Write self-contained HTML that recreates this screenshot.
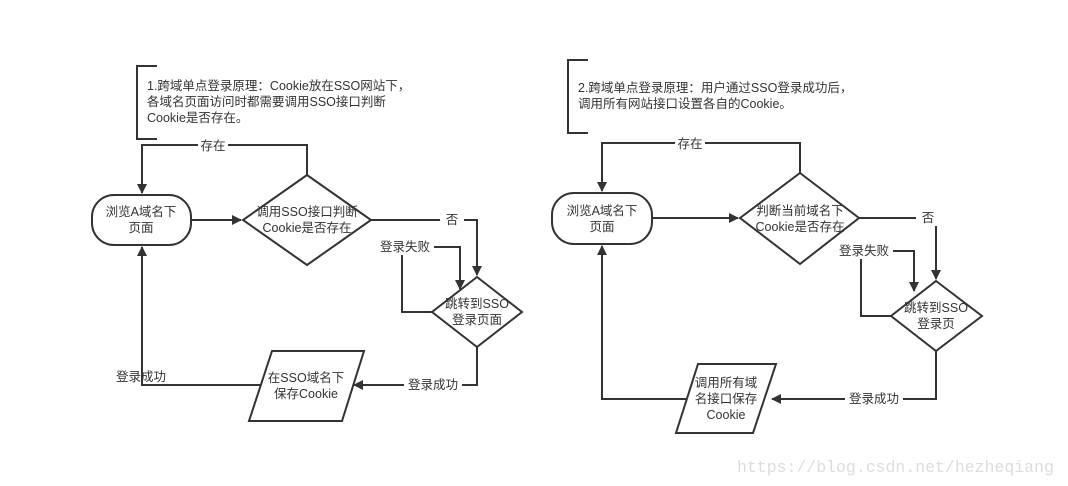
<!DOCTYPE html>
<html><head><meta charset="utf-8"><style>
html,body{margin:0;padding:0;background:#fff;}
svg{display:block}
text{font-family:"Liberation Sans","Noto Sans CJK SC",sans-serif;font-size:12.5px;fill:#333;}
.w{font-family:"Liberation Mono","DejaVu Sans Mono",monospace;font-size:16.5px;fill:#ddd;}
</style></head><body>
<svg width="1068" height="486" viewBox="0 0 1068 486" xmlns="http://www.w3.org/2000/svg">
<defs><marker id="a" markerWidth="10" markerHeight="10" refX="9" refY="5" orient="auto" markerUnits="userSpaceOnUse"><path d="M0,0 L10,5 L0,10 Z" fill="#333"/></marker></defs>
<g fill="none" stroke="#333" stroke-width="2">
<!-- left -->
<path d="M157,66 H137 V139 H157"/>
<rect x="92" y="195" width="99" height="50" rx="22"/>
<path d="M307,175 L371,220 L307,265 L243,220 Z"/>
<path d="M477,277 L522,312 L477,347 L432,312 Z"/>
<path d="M272,351 H364 L342,421 H249 Z"/>
<path d="M191,220 H241" marker-end="url(#a)"/>
<path d="M307,175 V145 H142 V193" marker-end="url(#a)"/>
<path d="M371,220 H477 V275" marker-end="url(#a)"/>
<path d="M432,312 H402 V247 H460 V289" marker-end="url(#a)"/>
<path d="M477,347 V385 H354" marker-end="url(#a)"/>
<path d="M260,385 H142 V247" marker-end="url(#a)"/>
<!-- right -->
<path d="M588,60 H568 V133 H588"/>
<rect x="552" y="193" width="100" height="51" rx="22"/>
<path d="M800,173 L859,218 L800,264 L740,218 Z"/>
<path d="M936,281 L982,316 L936,351 L891,316 Z"/>
<path d="M698,364 H776 L753,433 H676 Z"/>
<path d="M652,218 H738" marker-end="url(#a)"/>
<path d="M800,173 V143 H602 V191" marker-end="url(#a)"/>
<path d="M859,218 H936 V279" marker-end="url(#a)"/>
<path d="M891,316 H861 V251 H914 V291" marker-end="url(#a)"/>
<path d="M936,351 V399 H772" marker-end="url(#a)"/>
<path d="M687,399 H602 V246" marker-end="url(#a)"/>
</g>
<g>
<rect x="198" y="137" width="30" height="16" fill="#fff"/>
<rect x="440" y="212" width="24" height="16" fill="#fff"/>
<rect x="376" y="239" width="58" height="16" fill="#fff"/>
<rect x="404" y="377" width="58" height="16" fill="#fff"/>
<rect x="675" y="135" width="30" height="16" fill="#fff"/>
<rect x="916" y="210" width="24" height="16" fill="#fff"/>
<rect x="835" y="243" width="58" height="16" fill="#fff"/>
<rect x="845" y="391" width="58" height="16" fill="#fff"/>
</g>
<text x="147" y="90">1.跨域单点登录原理：Cookie放在SSO网站下，</text>
<text x="147" y="106">各域名页面访问时都需要调用SSO接口判断</text>
<text x="147" y="122">Cookie是否存在。</text>
<text x="578" y="92">2.跨域单点登录原理：用户通过SSO登录成功后，</text>
<text x="578" y="108">调用所有网站接口设置各自的Cookie。</text>
<g text-anchor="middle">
<text x="141" y="216">浏览A域名下</text><text x="141" y="232">页面</text>
<text x="307" y="216">调用SSO接口判断</text><text x="307" y="232">Cookie是否存在</text>
<text x="477" y="308">跳转到SSO</text><text x="477" y="324">登录页面</text>
<text x="306" y="382">在SSO域名下</text><text x="306" y="398">保存Cookie</text>
<text x="213" y="150">存在</text><text x="452" y="224">否</text>
<text x="405" y="251">登录失败</text><text x="433" y="389">登录成功</text>
<text x="141" y="381">登录成功</text>
<text x="602" y="215">浏览A域名下</text><text x="602" y="231">页面</text>
<text x="800" y="215">判断当前域名下</text><text x="800" y="231">Cookie是否存在</text>
<text x="936" y="312">跳转到SSO</text><text x="936" y="328">登录页</text>
<text x="726" y="387">调用所有域</text><text x="726" y="403">名接口保存</text><text x="726" y="419">Cookie</text>
<text x="690" y="148">存在</text><text x="928" y="222">否</text>
<text x="864" y="255">登录失败</text><text x="874" y="403">登录成功</text>
</g>
<text class="w" x="737" y="472">https://blog.csdn.net/hezheqiang</text>
</svg>
</body></html>
